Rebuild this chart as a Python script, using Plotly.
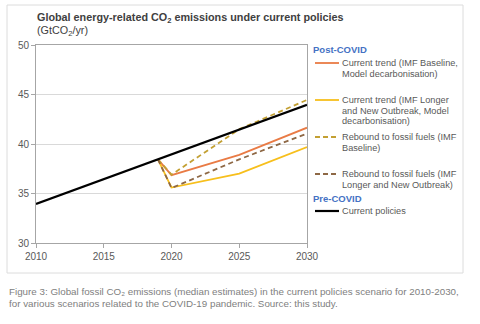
import plotly.graph_objects as go

years_pre = [2010, 2019, 2020, 2025, 2030]
current_policies = [33.95, 38.45, 38.95, 41.45, 43.95]

years_post = [2019, 2020, 2025, 2030]
trend_imf_baseline = [38.45, 36.85, 38.9, 41.65]
trend_imf_longer = [38.45, 35.6, 37.0, 39.7]
rebound_imf_baseline = [38.45, 36.9, 41.5, 44.45]
rebound_imf_longer = [38.45, 35.55, 38.45, 41.05]

x_ticks = [2010, 2015, 2020, 2025, 2030]
y_ticks = [30, 35, 40, 45, 50]

series = [
    ("Current trend (IMF Baseline,<br>Model decarbonisation)", years_post, trend_imf_baseline, "#E97B45", "solid", 1.8),
    ("Current trend (IMF Longer<br>and New Outbreak, Model<br>decarbonisation)", years_post, trend_imf_longer, "#F7BF1C", "solid", 1.8),
    ("Rebound to fossil fuels (IMF<br>Baseline)", years_post, rebound_imf_baseline, "#C3A033", "5px,3.5px", 1.8),
    ("Rebound to fossil fuels (IMF<br>Longer and New Outbreak)", years_post, rebound_imf_longer, "#8E6845", "5px,3.5px", 1.8),
    ("Current policies", years_pre, current_policies, "#000000", "solid", 2.2),
]

W, H = 480, 324
L, R, T, B = 36, 307, 45, 243
FONT = "Liberation Sans, Arial, sans-serif"


def px(x):
    return (x - L) / (R - L)


def py(y):
    return (B - y) / (B - T)


fig = go.Figure()
for name, xs, ys, color, dash, width in series:
    fig.add_trace(go.Scatter(x=xs, y=ys, mode="lines", name=name,
                             line=dict(color=color, dash=dash, width=width),
                             showlegend=False))

shapes = []
annotations = []

# outer frame
shapes.append(dict(type="rect", xref="paper", yref="paper",
                   x0=px(7), x1=px(463), y0=py(273), y1=py(5),
                   line=dict(color="#dcdcdc", width=1), layer="below"))

# legend
legend_items = [
    (0, 63, ["Current trend (IMF Baseline,", "Model decarbonisation)"]),
    (1, 100, ["Current trend (IMF Longer", "and New Outbreak, Model", "decarbonisation)"]),
    (2, 137, ["Rebound to fossil fuels (IMF", "Baseline)"]),
    (3, 174, ["Rebound to fossil fuels (IMF", "Longer and New Outbreak)"]),
    (4, 211, ["Current policies"]),
]
for idx, ypix, lines in legend_items:
    _, _, _, color, dash, width = series[idx]
    shapes.append(dict(type="line", xref="paper", yref="paper",
                       x0=px(315), x1=px(339), y0=py(ypix), y1=py(ypix),
                       line=dict(color=color, dash=("5px,3px" if dash != "solid" else "solid"), width=width)))
    for k, txt in enumerate(lines):
        annotations.append(dict(text=txt, xref="paper", yref="paper",
                                x=px(340), y=py(ypix + k * 10.7),
                                xanchor="left", yanchor="middle", showarrow=False,
                                font=dict(family=FONT, size=9.2, color="#595959")))

for txt, ypix in [("Post-COVID", 49.5), ("Pre-COVID", 198)]:
    annotations.append(dict(text="<b>" + txt + "</b>", xref="paper", yref="paper",
                            x=px(311), y=py(ypix), xanchor="left", yanchor="middle",
                            showarrow=False,
                            font=dict(family=FONT, size=9.5, color="#4472C4")))

# title
annotations.append(dict(text="<b>Global energy-related CO<sub>2</sub> emissions under current policies</b>",
                        xref="paper", yref="paper", x=px(35), y=py(18),
                        xanchor="left", yanchor="middle", showarrow=False,
                        font=dict(family=FONT, size=10.8, color="#404040")))
annotations.append(dict(text="(GtCO<sub>2</sub>/yr)",
                        xref="paper", yref="paper", x=px(35), y=py(31),
                        xanchor="left", yanchor="middle", showarrow=False,
                        font=dict(family=FONT, size=10.8, color="#404040")))

# caption
for txt, ypix in [("Figure 3: Global fossil CO₂ emissions (median estimates) in the current policies scenario for 2010-2030,", 291),
                  ("for various scenarios related to the COVID-19 pandemic. Source: this study.", 303.5)]:
    annotations.append(dict(text=txt, xref="paper", yref="paper",
                            x=px(7), y=py(ypix), xanchor="left", yanchor="middle",
                            showarrow=False,
                            font=dict(family=FONT, size=9.8, color="#808080")))

fig.update_layout(
    width=W, height=H,
    margin=dict(l=L, r=W - R, t=T, b=H - B, pad=0),
    paper_bgcolor="white", plot_bgcolor="white",
    shapes=shapes, annotations=annotations,
    font=dict(family=FONT, color="#595959", size=10),
    xaxis=dict(range=[2010, 2030], tickvals=x_ticks, showgrid=False,
               showline=True, linecolor="#a6a6a6", linewidth=1, mirror=True,
               ticks="outside", ticklen=4, tickcolor="#a6a6a6",
               tickfont=dict(family=FONT, size=10, color="#595959"), zeroline=False),
    yaxis=dict(range=[30, 50], tickvals=y_ticks, showgrid=True, gridcolor="#d9d9d9",
               gridwidth=1, showline=True, linecolor="#a6a6a6", linewidth=1, mirror=True,
               ticks="outside", ticklen=4, tickcolor="#a6a6a6",
               tickfont=dict(family=FONT, size=10, color="#595959"), zeroline=False),
)

fig.write_html("out.html")
